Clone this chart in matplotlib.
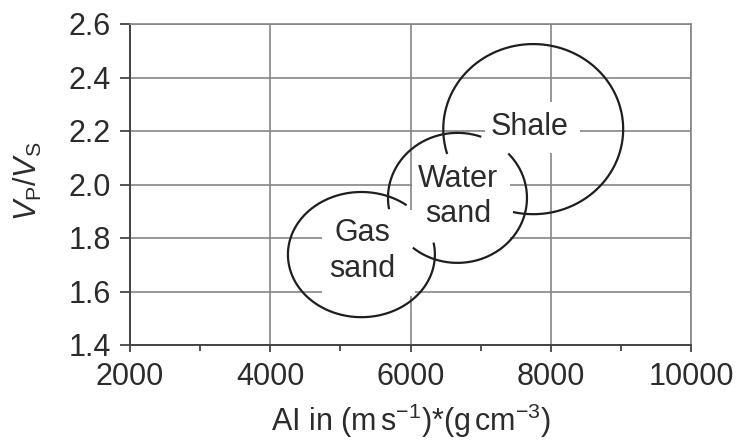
import numpy as np
import matplotlib
matplotlib.use("Agg")
import matplotlib.pyplot as plt
from matplotlib.patches import Rectangle
from matplotlib.ticker import MultipleLocator

plt.rcParams['font.family'] = ['Liberation Sans', 'DejaVu Sans']
plt.rcParams['mathtext.fontset'] = 'custom'
plt.rcParams['mathtext.rm'] = 'Liberation Sans'
plt.rcParams['mathtext.it'] = 'Liberation Sans:italic'

# Zonas (centro, semiejes)
zonas = ['Gas\nsand', 'Water\nsand', 'Shale']
centro_ai = [5300, 6670, 7750]
centro_vpvs = [1.738, 1.950, 2.207]
radio_ai = [1048, 991, 1283]
radio_vpvs = [0.234, 0.243, 0.318]
# tramos visibles de cada contorno (grados)
arco_ini = [52, 70, 257]
arco_fin = [371, 190, 557]
arco2_ini = [None, 230, None]
arco2_fin = [None, 403, None]

x_ticks = [2000, 4000, 6000, 8000, 10000]
y_ticks = [1.4, 1.6, 1.8, 2.0, 2.2, 2.4, 2.6]

gris_txt = '#2b2b2b'
gris_grid = '#858585'
fs = 22

fig = plt.figure(figsize=(7.38, 4.41), dpi=100)
ax = fig.add_axes([130/738, 1-345/441, 561/738, 321/441])

ax.set_xlim(2000, 10000)
ax.set_ylim(1.4, 2.6)
ax.set_xticks(x_ticks)
ax.set_yticks(y_ticks)
ax.xaxis.set_minor_locator(MultipleLocator(1000))
ax.set_yticklabels([f'{v:.1f}' for v in y_ticks])

ax.grid(True, which='major', color=gris_grid, lw=1.2, zorder=1)
ax.set_axisbelow(True)
for lado in ['top', 'right']:
    ax.spines[lado].set_color(gris_grid)
    ax.spines[lado].set_linewidth(1.2)
for lado in ['left', 'bottom']:
    ax.spines[lado].set_color('#444444')
    ax.spines[lado].set_linewidth(1.4)

ax.tick_params(axis='both', which='major', labelsize=fs, colors='#444444',
               labelcolor=gris_txt, width=1.3)
ax.tick_params(axis='y', which='major', length=7, pad=7)
ax.tick_params(axis='x', which='major', length=5, pad=7)
ax.tick_params(axis='x', which='minor', length=4, width=1.3, colors='#444444')

# cajas blancas de las etiquetas (tapan la cuadricula)
cajas = [(4740, 1.583, 1325, 0.322), (6020, 1.774, 1400, 0.381), (7060, 2.118, 1360, 0.190)]
for (x0, y0, w, h) in cajas:
    ax.add_patch(Rectangle((x0, y0), w, h, facecolor='white', edgecolor='none', zorder=2))

# contornos de cada zona
for i in range(len(zonas)):
    tramos = [(arco_ini[i], arco_fin[i])]
    if arco2_ini[i] is not None:
        tramos.append((arco2_ini[i], arco2_fin[i]))
    for a, b in tramos:
        t = np.deg2rad(np.linspace(a, b, 200))
        ax.plot(centro_ai[i] + radio_ai[i]*np.cos(t),
                centro_vpvs[i] + radio_vpvs[i]*np.sin(t),
                color='#1e1e1e', lw=1.6, zorder=3, solid_capstyle='butt')

# etiquetas
pos_x = [5308, 6677, 7704]
pos_y = [1.75, 1.955, 2.215]
for i in range(len(zonas)):
    ax.text(pos_x[i], pos_y[i], zonas[i], ha='center', va='center', fontsize=fs,
            color=gris_txt, linespacing=1.25, zorder=4)

ax.set_xlabel(r'AI in ($\mathrm{m\,s}^{-1}$)*($\mathrm{g\,cm}^{-3}$)', fontsize=fs, color=gris_txt)
ax.set_ylabel(r'$V_{\mathrm{P}}/V_{\mathrm{S}}$', fontsize=fs, color=gris_txt)
ax.xaxis.set_label_coords(0.5, -0.178)
ax.yaxis.set_label_coords(-0.153, 0.511)

fig.savefig('out.png', dpi=100)
